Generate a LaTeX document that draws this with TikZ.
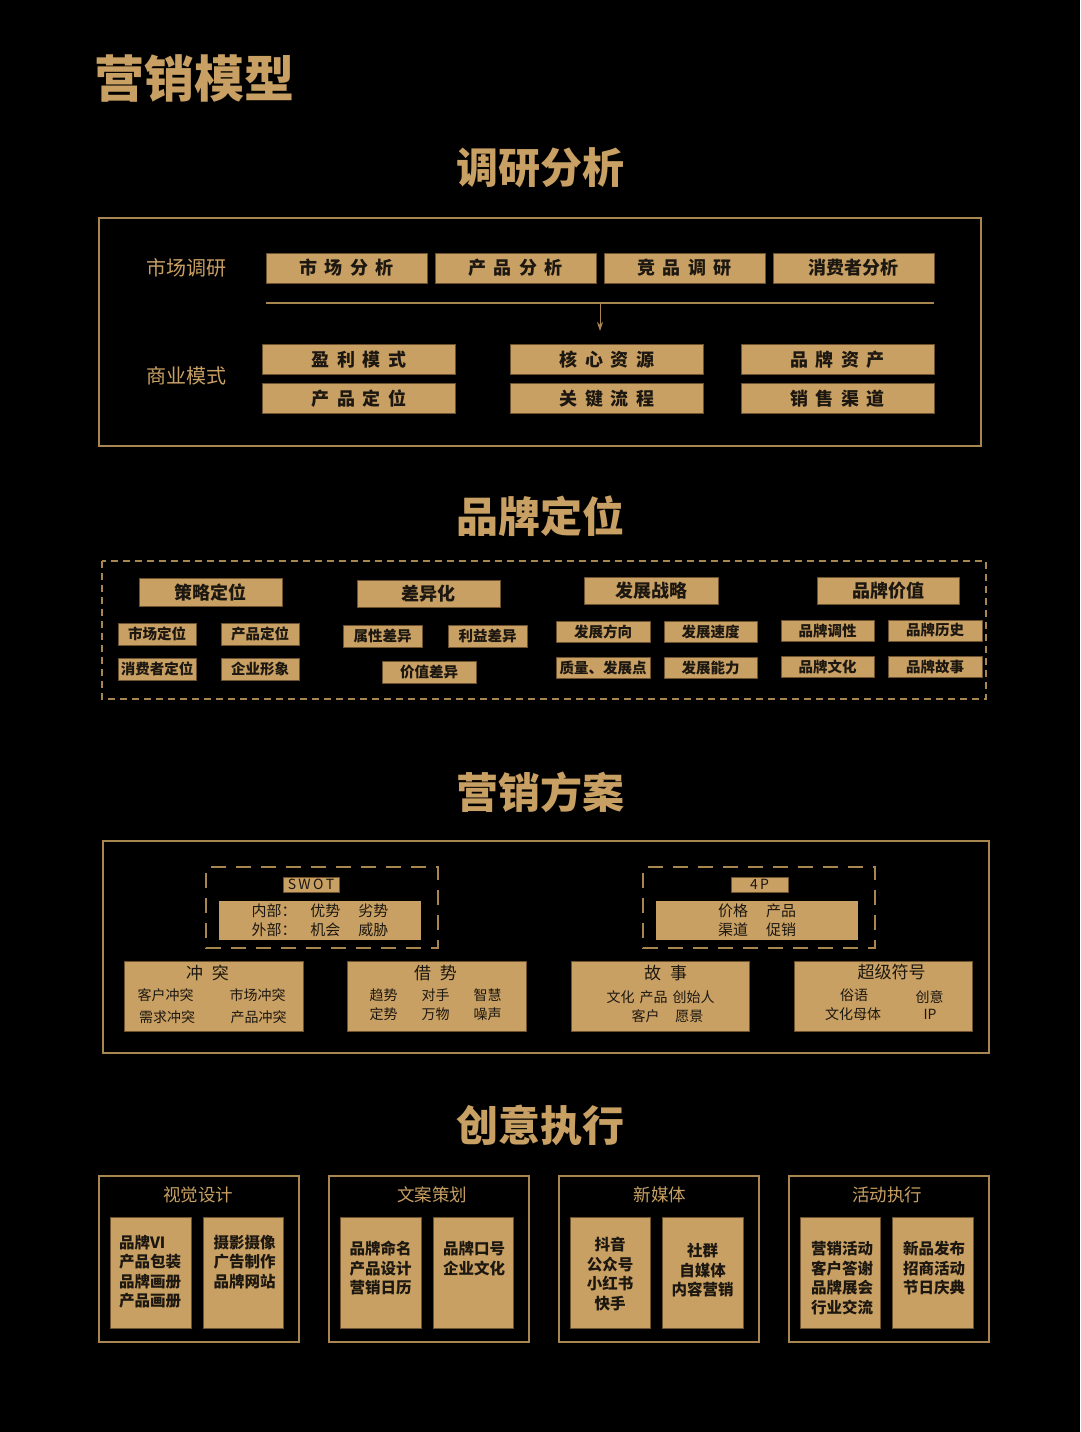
\documentclass[tikz,border=0pt]{standalone}
\usepackage{fontspec}
\setmainfont{Noto Sans CJK SC}
\usetikzlibrary{positioning}
\usetikzlibrary{arrows.meta}
\definecolor{gold}{HTML}{C9A063}
\definecolor{goldline}{HTML}{A8864F}
\definecolor{golddark}{HTML}{6E5230}
\definecolor{ink}{HTML}{1C1710}
\newcommand\wsp{\hspace{0.42em}}
\tikzset{
  gbox/.style={draw=golddark, fill=gold, line width=0.8pt, inner sep=0pt, outer sep=0pt, text=ink},
  bigtxt/.style={font=\bfseries\fontsize{18}{18}\selectfont},
  smtxt/.style={font=\bfseries\fontsize{14.5}{15}\selectfont},
  tagtxt/.style={font=\fontsize{14}{14}\selectfont},
  frame/.style={draw=goldline, line width=1.5pt},
  dframe/.style={draw=goldline, line width=1.3pt, dash pattern=on 7pt off 5pt},
  sframe/.style={draw=goldline, line width=2.4pt, dash pattern=on 15pt off 10pt, dash phase=-6pt},
  head/.style={text=gold, font=\bfseries\fontsize{42}{42}\selectfont, inner sep=0pt},
  lbl/.style={text=gold, font=\fontsize{20}{20}\selectfont, inner sep=0pt},
  item/.style={text=ink, font=\fontsize{14}{19}\selectfont, inner sep=0pt, align=center},
  ttl/.style={text=ink, font=\fontsize{17}{17}\selectfont, inner sep=0pt},
  list/.style={text=ink, font=\bfseries\fontsize{15.5}{19.5}\selectfont, inner sep=0pt, align=center},
  ctitle/.style={text=gold, font=\fontsize{17.5}{17.5}\selectfont, inner sep=0pt},
}
\begin{document}
\begin{tikzpicture}[x=1pt, y=-1pt, node distance=8pt]
  \fill[black] (0,0) rectangle (1080,1432);
  \useasboundingbox (0,0) rectangle (1080,1432);

  % Title
  \node[head, font=\bfseries\fontsize{50}{50}\selectfont] (title) at (194,78) {营销模型};

  % ---- 调研分析 ----
  \node[head] (hResearch) at (540,168) {调研分析};
  \draw[frame] (99,218) rectangle (981,446);
  \node[lbl] (market) at (186,268) {市场调研};
  \node[lbl] (business) at (186,376) {商业模式};

  \node[gbox, bigtxt, minimum width=161pt, minimum height=30pt] (ma) at (346.5,268) {市\wsp 场\wsp 分\wsp 析};
  \node[gbox, bigtxt, minimum width=161pt, minimum height=30pt, right=8pt of ma] (pa) {产\wsp 品\wsp 分\wsp 析};
  \node[gbox, bigtxt, minimum width=161pt, minimum height=30pt, right=8pt of pa] (ca) {竞\wsp 品\wsp 调\wsp 研};
  \node[gbox, bigtxt, minimum width=161pt, minimum height=30pt, right=8pt of ca] (ua) {消费者分析};

  \coordinate (sepL) at (266,303);
  \coordinate (sepR) at (934,303);
  \coordinate (arrS) at (600,303);
  \coordinate (arrE) at (600,331);
  \draw[goldline, line width=1.2pt] (sepL) -- (sepR);
  \draw[goldline, line width=1pt, -{Stealth[length=9pt, width=6pt]}] (arrS) -- (arrE);

  \node[gbox, bigtxt, minimum width=193pt, minimum height=30pt] (profit) at (359,359.5) {盈\wsp 利\wsp 模\wsp 式};
  \node[gbox, bigtxt, minimum width=193pt, minimum height=30pt, below=9pt of profit] (prodpos) {产\wsp 品\wsp 定\wsp 位};
  \node[gbox, bigtxt, minimum width=193pt, minimum height=30pt] (core) at (607,359.5) {核\wsp 心\wsp 资\wsp 源};
  \node[gbox, bigtxt, minimum width=193pt, minimum height=30pt, below=9pt of core] (flow) {关\wsp 键\wsp 流\wsp 程};
  \node[gbox, bigtxt, minimum width=193pt, minimum height=30pt] (asset) at (837.5,359.5) {品\wsp 牌\wsp 资\wsp 产};
  \node[gbox, bigtxt, minimum width=193pt, minimum height=30pt, below=9pt of asset] (channel) {销\wsp 售\wsp 渠\wsp 道};

  % ---- 品牌定位 ----
  \node[head] (hBrand) at (540,516) {品牌定位};
  \draw[dframe] (102,561) rectangle (986,699);

  \node[gbox, bigtxt, minimum width=143pt, minimum height=28pt] (strat) at (210.5,592) {策略定位};
  \node[gbox, smtxt, minimum width=78pt, minimum height=22pt] (s1) at (157,634) {市场定位};
  \node[gbox, smtxt, minimum width=78pt, minimum height=22pt] (s2) at (260,634) {产品定位};
  \node[gbox, smtxt, minimum width=78pt, minimum height=22pt] (s3) at (157,669) {消费者定位};
  \node[gbox, smtxt, minimum width=78pt, minimum height=22pt] (s4) at (260,669) {企业形象};

  \node[gbox, bigtxt, minimum width=143pt, minimum height=27pt] (diff) at (428.5,593.5) {差异化};
  \node[gbox, smtxt, minimum width=79pt, minimum height=22pt] (d1) at (382.5,636) {属性差异};
  \node[gbox, smtxt, minimum width=79pt, minimum height=22pt] (d2) at (487.5,636) {利益差异};
  \node[gbox, smtxt, minimum width=94pt, minimum height=22pt] (d3) at (429,672) {价值差异};

  \node[gbox, bigtxt, minimum width=134pt, minimum height=27pt] (grow) at (651,590.5) {发展战略};
  \node[gbox, smtxt, minimum width=94pt, minimum height=21pt] (g1) at (603,631.5) {发展方向};
  \node[gbox, smtxt, minimum width=93pt, minimum height=21pt] (g2) at (710.5,631.5) {发展速度};
  \node[gbox, smtxt, minimum width=94pt, minimum height=21pt] (g3) at (603,667.5) {质量、发展点};
  \node[gbox, smtxt, minimum width=93pt, minimum height=21pt] (g4) at (710.5,667.5) {发展能力};

  \node[gbox, bigtxt, minimum width=142pt, minimum height=27pt] (value) at (888,590.5) {品牌价值};
  \node[gbox, smtxt, minimum width=93pt, minimum height=21pt] (v1) at (827.5,630.5) {品牌调性};
  \node[gbox, smtxt, minimum width=94pt, minimum height=21pt] (v2) at (935,630.5) {品牌历史};
  \node[gbox, smtxt, minimum width=93pt, minimum height=21pt] (v3) at (827.5,666.5) {品牌文化};
  \node[gbox, smtxt, minimum width=94pt, minimum height=21pt] (v4) at (935,666.5) {品牌故事};

  % ---- 营销方案 ----
  \node[head] (hPlan) at (540,792) {营销方案};
  \draw[frame] (103,841) rectangle (989,1053);

  \draw[sframe] (206,867) rectangle (438,948);
  \node[gbox, tagtxt, minimum width=56pt, minimum height=15pt] (swot) at (311,884.5) {S\,W\,O\,T};
  \node[gbox, item, font=\fontsize{15}{19}\selectfont, minimum width=202pt, minimum height=39pt, draw=none] (swotc) at (320,920) {内部：\hspace{14pt}优势\hspace{18pt}劣势\\外部：\hspace{14pt}机会\hspace{18pt}威胁};

  \draw[sframe] (643,867) rectangle (875,948);
  \node[gbox, tagtxt, minimum width=57pt, minimum height=15pt] (fourp) at (759.5,884.5) {4\,P};
  \node[gbox, item, font=\fontsize{15}{19}\selectfont, minimum width=202pt, minimum height=39pt, draw=none] (fourpc) at (757,920) {价格\hspace{18pt}产品\\渠道\hspace{18pt}促销};

  \node[gbox, minimum width=179pt, minimum height=70pt] (conflict) at (213.5,996) {};
  \node[ttl] (conflictT) at (207.5,973) {冲\hspace{9pt}突};
  \node[item] (cf1) at (165.5,995) {客户冲突};
  \node[item] (cf2) at (257.5,995) {市场冲突};
  \node[item] (cf3) at (167,1017) {需求冲突};
  \node[item] (cf4) at (258.5,1017) {产品冲突};

  \node[gbox, minimum width=179pt, minimum height=70pt] (borrow) at (436.5,996) {};
  \node[ttl] (borrowT) at (435.5,973) {借\hspace{9pt}势};
  \node[item] (bw1) at (383.5,995) {趋势};
  \node[item] (bw2) at (435.5,995) {对手};
  \node[item] (bw3) at (487.5,995) {智慧};
  \node[item] (bw4) at (383.5,1014) {定势};
  \node[item] (bw5) at (435.5,1014) {万物};
  \node[item] (bw6) at (487.5,1014) {噪声};

  \node[gbox, minimum width=178pt, minimum height=70pt] (story) at (660,996) {};
  \node[ttl] (storyT) at (665.5,973) {故\hspace{9pt}事};
  \node[item] (st1) at (660.5,997) {文化\hspace{5pt}产品\hspace{5pt}创始人};
  \node[item] (st2) at (667.5,1016) {客户\hspace{16pt}愿景};

  \node[gbox, minimum width=178pt, minimum height=70pt] (symbol) at (883,996) {};
  \node[ttl] (symbolT) at (891.5,972) {超级符号};
  \node[item] (sy1) at (854,995) {俗语};
  \node[item] (sy2) at (929.5,997) {创意};
  \node[item] (sy3) at (853,1014) {文化母体};
  \node[item] (sy4) at (930,1014) {IP};

  % ---- 创意执行 ----
  \node[head] (hExec) at (540,1125) {创意执行};

  \draw[frame] (99,1176) rectangle (299,1342);
  \node[ctitle] (visual) at (198,1195) {视觉设计};
  \node[gbox, minimum width=81pt, minimum height=111pt] (vis1) at (150.5,1272.5) {};
  \node[gbox, minimum width=80pt, minimum height=111pt] (vis2) at (243,1272.5) {};
  \node[list, align=left] (vis1t) at (150,1271.5) {品牌VI\\产品包装\\品牌画册\\产品画册};
  \node[list] (vis2t) at (244.5,1262) {摄影摄像\\广告制作\\品牌网站};

  \draw[frame] (329,1176) rectangle (529,1342);
  \node[ctitle] (copy) at (432,1195) {文案策划};
  \node[gbox, minimum width=81pt, minimum height=111pt] (cp1) at (380.5,1272.5) {};
  \node[gbox, minimum width=80pt, minimum height=111pt] (cp2) at (473,1272.5) {};
  \node[list] (cp1t) at (380.5,1268) {品牌命名\\产品设计\\营销日历};
  \node[list] (cp2t) at (474,1258.5) {品牌口号\\企业文化};

  \draw[frame] (559,1176) rectangle (759,1342);
  \node[ctitle] (media) at (660,1195) {新媒体};
  \node[gbox, minimum width=80pt, minimum height=111pt] (md1) at (610,1272.5) {};
  \node[gbox, minimum width=81pt, minimum height=111pt] (md2) at (702.5,1272.5) {};
  \node[list] (md1t) at (610,1274) {抖音\\公众号\\小红书\\快手};
  \node[list] (md2t) at (702.5,1270.5) {社群\\自媒体\\内容营销};

  \draw[frame] (789,1176) rectangle (989,1342);
  \node[ctitle] (event) at (887,1195) {活动执行};
  \node[gbox, minimum width=80pt, minimum height=111pt] (ev1) at (840,1272.5) {};
  \node[gbox, minimum width=81pt, minimum height=111pt] (ev2) at (932.5,1272.5) {};
  \node[list] (ev1t) at (842,1278) {营销活动\\客户答谢\\品牌展会\\行业交流};
  \node[list] (ev2t) at (934,1268.5) {新品发布\\招商活动\\节日庆典};
\end{tikzpicture}
\end{document}
